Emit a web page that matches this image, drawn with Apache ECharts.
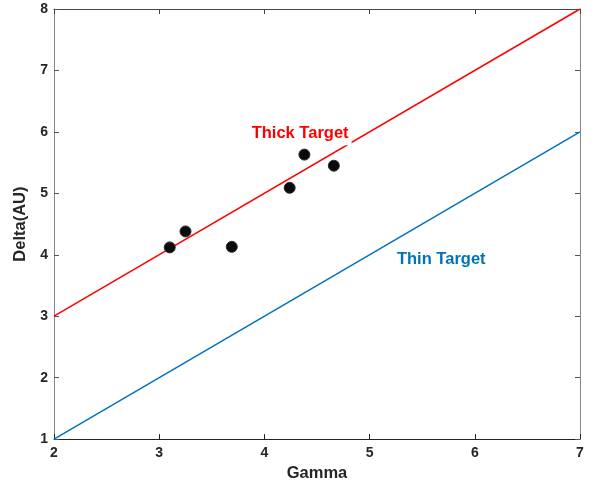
<!DOCTYPE html>
<html><head><meta charset="utf-8">
<script src="https://cdn.jsdelivr.net/npm/echarts@6/dist/echarts.min.js"></script>
<style>html,body{margin:0;padding:0;background:#fff}#c{width:600px;height:487px}</style>
</head><body><div id="c"></div>
<script>
const gamma = [3.10, 3.25, 3.69, 4.24, 4.38, 4.66];
const delta = [4.12, 4.38, 4.13, 5.09, 5.63, 5.45];
const lineX = [2, 7];
const thickY = [3, 8];
const thinY = [1, 6];
const thickLabel = {text: 'Thick Target', x: 3.86, y: 5.97};
const thinLabel = {text: 'Thin Target', x: 5.26, y: 3.93};
const xTicks = [2, 3, 4, 5, 6, 7];
const yTicks = [1, 2, 3, 4, 5, 6, 7, 8];

const font = 'Liberation Sans, Arial, Helvetica, sans-serif';
const chart = echarts.init(document.getElementById('c'));
chart.setOption({
  animation: false,
  grid: {left: 54, right: 20, top: 9, bottom: 47},
  xAxis: [{
    type: 'value', min: 2, max: 7, interval: 1, position: 'bottom',
    axisLine: {show: true, onZero: false, lineStyle: {color: '#222', width: 1}},
    axisTick: {show: true, inside: true, length: 5, lineStyle: {color: '#222'}},
    axisLabel: {color: '#262626', fontFamily: font, fontWeight: 'bold', fontSize: 14, margin: 7},
    splitLine: {show: false},
    name: 'Gamma', nameLocation: 'middle', nameGap: 22,
    nameTextStyle: {color: '#262626', fontFamily: font, fontWeight: 'bold', fontSize: 16.5}
  }, {
    type: 'value', min: 2, max: 7, interval: 1, position: 'top',
    axisLine: {show: true, onZero: false, lineStyle: {color: '#444', width: 1}},
    axisTick: {show: true, inside: true, length: 5, lineStyle: {color: '#444'}},
    axisLabel: {show: false}, splitLine: {show: false}
  }],
  yAxis: [{
    type: 'value', min: 1, max: 8, interval: 1, position: 'left',
    axisLine: {show: true, onZero: false, lineStyle: {color: '#888', width: 1}},
    axisTick: {show: true, inside: true, length: 5, lineStyle: {color: '#555'}},
    axisLabel: {color: '#262626', fontFamily: font, fontWeight: 'bold', fontSize: 14, margin: 6},
    splitLine: {show: false},
    name: 'Delta(AU)', nameLocation: 'middle', nameGap: 20,
    nameTextStyle: {color: '#262626', fontFamily: font, fontWeight: 'bold', fontSize: 16.5}
  }, {
    type: 'value', min: 1, max: 8, interval: 1, position: 'right',
    axisLine: {show: true, onZero: false, lineStyle: {color: '#888', width: 1}},
    axisTick: {show: true, inside: true, length: 5, lineStyle: {color: '#555'}},
    axisLabel: {show: false}, splitLine: {show: false}
  }],
  series: [
    {type: 'line', data: lineX.map((x, i) => [x, thinY[i]]), showSymbol: false,
     lineStyle: {color: '#0072BD', width: 1.5}, z: 2, silent: true},
    {type: 'line', data: lineX.map((x, i) => [x, thickY[i]]), showSymbol: false,
     lineStyle: {color: '#FF0000', width: 1.5}, z: 2, silent: true},
    {type: 'scatter', data: gamma.map((g, i) => [g, delta[i]]), symbolSize: 11,
     itemStyle: {color: '#0a0a0a', borderColor: '#2a2a2a', borderWidth: 1, opacity: 1}, z: 3},
    {type: 'scatter', symbolSize: 0, z: 5, silent: true,
     itemStyle: {opacity: 1},
     data: [[thickLabel.x, thickLabel.y]],
     label: {show: true, position: 'right', distance: 0, formatter: thickLabel.text,
       color: '#FF0000', fontFamily: font, fontWeight: 'bold', fontSize: 16.5,
       backgroundColor: '#fff', padding: [6, 3, 0, 2]}},
    {type: 'scatter', symbolSize: 0, z: 5, silent: true,
     itemStyle: {opacity: 1},
     data: [[thinLabel.x, thinLabel.y]],
     label: {show: true, position: 'right', distance: 0, formatter: thinLabel.text,
       color: '#0072BD', fontFamily: font, fontWeight: 'bold', fontSize: 16.5}}
  ]
});
</script></body></html>
